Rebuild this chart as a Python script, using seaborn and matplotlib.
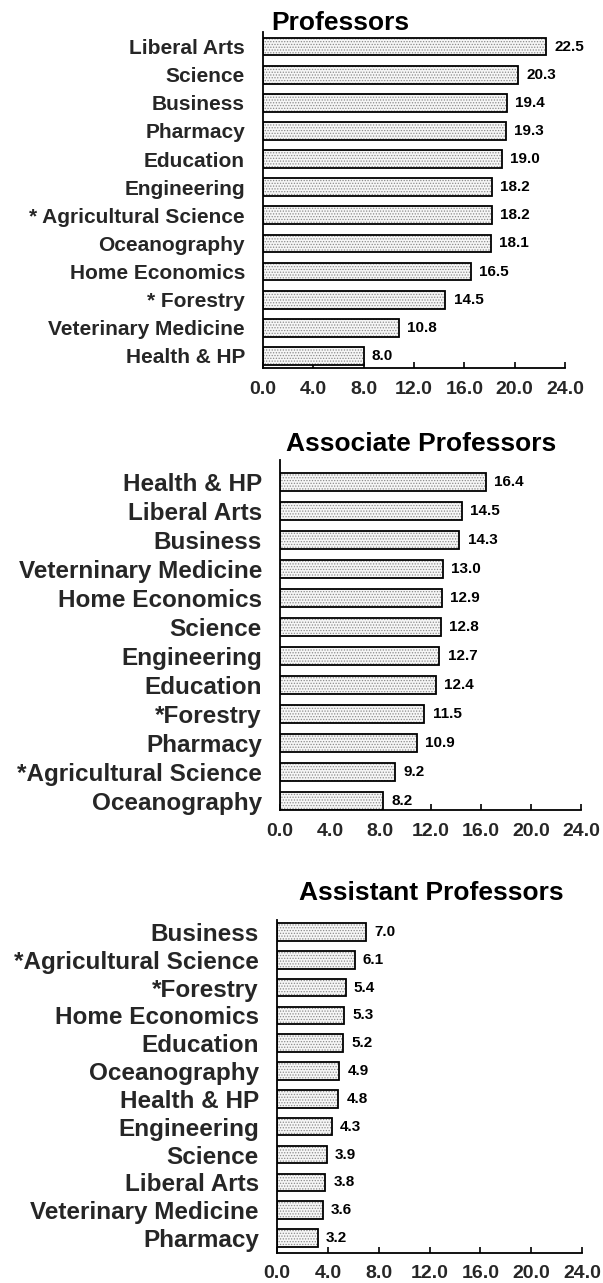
import matplotlib
matplotlib.use("Agg")
import matplotlib.pyplot as plt
import seaborn as sns
import pandas as pd

# Faculty salary-rank panels: category labels and values
prof_labels = ["Liberal Arts", "Science", "Business", "Pharmacy", "Education",
               "Engineering", "* Agricultural Science", "Oceanography",
               "Home Economics", "* Forestry", "Veterinary Medicine", "Health & HP"]
prof_values = [22.5, 20.3, 19.4, 19.3, 19.0, 18.2, 18.2, 18.1, 16.5, 14.5, 10.8, 8.0]

assoc_labels = ["Health & HP", "Liberal Arts", "Business", "Veterninary Medicine",
                "Home Economics", "Science", "Engineering", "Education",
                "*Forestry", "Pharmacy", "*Agricultural Science", "Oceanography"]
assoc_values = [16.4, 14.5, 14.3, 13.0, 12.9, 12.8, 12.7, 12.4, 11.5, 10.9, 9.2, 8.2]

asst_labels = ["Business", "*Agricultural Science", "*Forestry", "Home Economics",
               "Education", "Oceanography", "Health & HP", "Engineering",
               "Science", "Liberal Arts", "Veterinary Medicine", "Pharmacy"]
asst_values = [7.0, 6.1, 5.4, 5.3, 5.2, 4.9, 4.8, 4.3, 3.9, 3.8, 3.6, 3.2]

titles = ["Professors", "Associate Professors", "Assistant Professors"]
x_ticks = [0.0, 4.0, 8.0, 12.0, 16.0, 20.0, 24.0]

sns.set_theme(style="white")
plt.rcParams["font.family"] = ["Liberation Sans", "DejaVu Sans"]
plt.rcParams["font.weight"] = "bold"
plt.rcParams["hatch.linewidth"] = 0.6

W, H = 603, 1283
fig = plt.figure(figsize=(W / 100, H / 100), dpi=100)

# panel geometry in pixels: x0, x_end, y_top, y_bottom, ylim(bottom, top), title centre
panels = [
    dict(labels=prof_labels, values=prof_values, px=(263, 565), py=(32, 368),
         ylim=(11.43, -0.52), title_xy=(340, 23), label_size=15),
    dict(labels=assoc_labels, values=assoc_values, px=(280, 581), py=(460, 810),
         ylim=(11.31, -0.76), title_xy=(421, 444), label_size=17.5),
    dict(labels=asst_labels, values=asst_values, px=(277, 582), py=(920, 1253),
         ylim=(11.54, -0.43), title_xy=(431, 893), label_size=17.5),
]

for panel, title in zip(panels, titles):
    x0, x1 = panel["px"]
    y0, y1 = panel["py"]
    ax = fig.add_axes([x0 / W, 1 - y1 / H, (x1 - x0) / W, (y1 - y0) / H])
    df = pd.DataFrame({"category": panel["labels"], "value": panel["values"]})

    # stippled fill
    sns.barplot(data=df, x="value", y="category", order=panel["labels"],
                orient="h", color="#f6f6f6", saturation=1, width=0.63,
                hatch="......", edgecolor="#8a8a8a", linewidth=0, ax=ax)
    # black outline
    sns.barplot(data=df, x="value", y="category", order=panel["labels"],
                orient="h", color="black", fill=False, width=0.63,
                linewidth=1.3, ax=ax)

    for i, v in enumerate(panel["values"]):
        ax.annotate(f"{v:.1f}", xy=(v, i), xytext=(6, 0),
                    textcoords="offset points", va="center", ha="left",
                    fontsize=11, fontweight="bold", color="black")

    ax.set_xlim(0, 24)
    ax.set_ylim(*panel["ylim"])
    ax.set_xticks(x_ticks)
    ax.set_xticklabels([f"{t:.1f}" for t in x_ticks], fontsize=14,
                       fontweight="bold")
    ax.tick_params(axis="x", direction="in", length=4, width=1.2,
                   color="black", pad=9, bottom=True)
    ax.tick_params(axis="y", length=0, pad=13, labelsize=panel["label_size"])
    for lab in ax.get_yticklabels():
        lab.set_fontweight("bold")
    ax.set_xlabel("")
    ax.set_ylabel("")
    for side in ["top", "right"]:
        ax.spines[side].set_visible(False)
    for side in ["left", "bottom"]:
        ax.spines[side].set_visible(True)
        ax.spines[side].set_color("black")
        ax.spines[side].set_linewidth(1.3)
    ax.set_facecolor("white")

    tx, ty = panel["title_xy"]
    fig.text(tx / W, 1 - ty / H, title, ha="center", va="center",
             fontsize=19, fontweight="bold", color="black")

fig.savefig("out.png", dpi=100, facecolor="white")
